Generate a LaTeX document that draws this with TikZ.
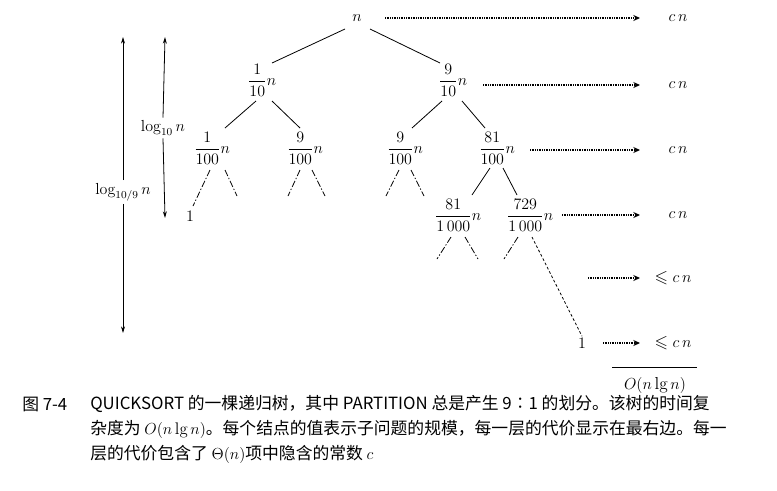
\documentclass[tikz,border=0pt]{standalone}
\usepackage{amssymb,amsmath}
\usepackage{fontspec}
\newfontfamily\cjk{Noto Sans CJK SC}
\usetikzlibrary{arrows.meta}
\newcommand\fr[2]{\genfrac{}{}{0.4pt}{0}{#1}{#2}}
\begin{document}
\begin{tikzpicture}[x=0.75pt,y=-0.75pt,
  tn/.style={inner sep=1pt,font=\fontsize{12}{14}\selectfont},
  ed/.style={line width=0.6pt},
  stub/.style={line width=0.6pt,dash pattern=on 5pt off 1.5pt on 1pt off 1.5pt},
  lvl/.style={line width=1.8pt,dash pattern=on 0.6pt off 0.7pt,-{Stealth[length=5pt,width=4.5pt]}},
  cost/.style={anchor=west,font=\fontsize{13}{15}\selectfont},
  captext/.style={anchor=west,inner sep=0pt,font=\cjk\fontsize{12.6}{15}\selectfont}]
\useasboundingbox (0,0) rectangle (777,490);
% tree nodes
\node[tn,font=\fontsize{13}{15}\selectfont] (r) at (357,18) {$n$};
\node[tn] (a) at (262,80) {$\fr{1}{10}n$};
\node[tn] (b) at (453,80) {$\fr{9}{10}n$};
\node[tn] (aa) at (212,148) {$\fr{1}{100}n$};
\node[tn] (ab) at (305,148) {$\fr{9}{100}n$};
\node[tn] (ba) at (405,148) {$\fr{9}{100}n$};
\node[tn] (bb) at (497,148) {$\fr{81}{100}n$};
\node[tn] (one) at (190,216) {$1$};
\node[tn] (bba) at (458,215) {$\fr{81}{1\,000}n$};
\node[tn] (bbb) at (530,215) {$\fr{729}{1\,000}n$};
\node[tn] (one2) at (582,343) {$1$};
% edges
\draw[ed] (345,29) -- (272,63);
\draw[ed] (370,29) -- (440,63);
\draw[ed] (256,101) -- (225,128);
\draw[ed] (272,101) -- (300,128);
\draw[ed] (442,101) -- (412,128);
\draw[ed] (462,101) -- (485,128);
\draw[ed] (490,168) -- (472,195);
\draw[ed] (503,168) -- (517,195);
% stubs
\coordinate (s1) at (193,206);
\draw[stub] (210,170) -- (s1);
\coordinate (s2) at (237,196); \draw[stub] (225,170) -- (s2);
\coordinate (s3) at (288,196); \draw[stub] (300,170) -- (s3);
\coordinate (s4) at (325,196); \draw[stub] (312,170) -- (s4);
\coordinate (s5) at (386,196); \draw[stub] (399,170) -- (s5);
\coordinate (s6) at (424,196); \draw[stub] (411,170) -- (s6);
\coordinate (s7) at (437,259); \draw[stub] (451,237) -- (s7);
\coordinate (s8) at (478,259); \draw[stub] (465,237) -- (s8);
\coordinate (s9) at (504,259); \draw[stub] (518,237) -- (s9);
\draw[stub,dash pattern=on 2pt off 1.6pt] (532,237) -- (one2.north);
% level arrows
\coordinate (e1) at (640,18); \coordinate (e2) at (640,85);
\coordinate (e3) at (640,150); \coordinate (e4) at (640,215);
\coordinate (e5) at (640,278); \coordinate (e6) at (640,343);
\draw[lvl] (385,18) -- (e1);
\draw[lvl] (483,85) -- (e2);
\draw[lvl] (530,150) -- (e3);
\draw[lvl] (562,215) -- (e4);
\draw[lvl] (588,278) -- (e5);
\draw[lvl] (603,343) -- (e6);
\node[cost] (c1) at (664,18) {$c\,n$};
\node[cost] (c2) at (664,85) {$c\,n$};
\node[cost] (c3) at (664,150) {$c\,n$};
\node[cost] (c4) at (664,215) {$c\,n$};
\node[cost] (c5) at (650,278) {$\leqslant c\,n$};
\node[cost] (c6) at (650,343) {$\leqslant c\,n$};
\draw[line width=0.6pt] (612,367) -- (697,367);
\node[tn,font=\fontsize{13}{15}\selectfont] (tot) at (655,385) {$O(n\lg n)$};
% height arrows
\coordinate (h1) at (123,37); \coordinate (h2) at (123,333);
\coordinate (g1) at (165,37); \coordinate (g2) at (165,218);
\node[tn,fill=white,inner sep=2pt] (hl) at (123,192) {$\log_{10/9}n$};
\node[tn,fill=white,inner sep=2pt] (gl) at (163,128) {$\log_{10}n$};
\draw[ed,-{Stealth[length=5pt,width=3pt]}] (hl.north) -- (h1);
\draw[ed,-{Stealth[length=5pt,width=3pt]}] (hl.south) -- (h2);
\draw[ed,-{Stealth[length=5pt,width=3pt]}] (gl.north) -- (g1);
\draw[ed,-{Stealth[length=5pt,width=3pt]}] (gl.south) -- (g2);
% caption
\node[captext] (f) at (22,404) {图 7-4};
\node[captext] (l1) at (90,404) {QUICKSORT 的一棵递归树，其中 PARTITION 总是产生 9∶1 的划分。该树的时间复};
\node[captext] (l2) at (90,429) {杂度为 $O(n\lg n)$。每个结点的值表示子问题的规模，每一层的代价显示在最右边。每一};
\node[captext] (l3) at (90,454) {层的代价包含了 $\Theta(n)$项中隐含的常数 $c$};
\end{tikzpicture}
\end{document}
